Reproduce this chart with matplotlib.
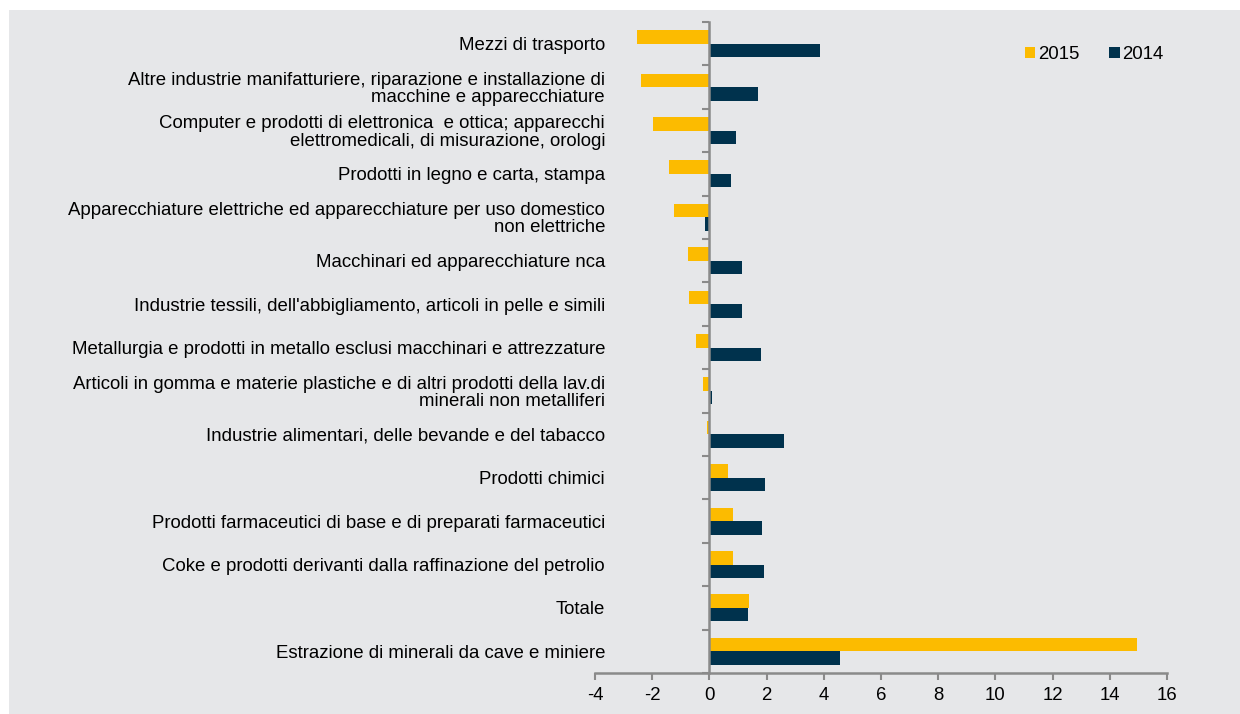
import matplotlib
matplotlib.use("Agg")
import matplotlib.pyplot as plt
import matplotlib.transforms as mtransforms
import numpy as np

plt.rcParams['font.family'] = ['Liberation Sans', 'DejaVu Sans']

categories = [
    "Mezzi di trasporto",
    "Altre industrie manifatturiere, riparazione e installazione di\nmacchine e apparecchiature",
    "Computer e prodotti di elettronica  e ottica; apparecchi\nelettromedicali, di misurazione, orologi",
    "Prodotti in legno e carta, stampa",
    "Apparecchiature elettriche ed apparecchiature per uso domestico\nnon elettriche",
    "Macchinari ed apparecchiature nca",
    "Industrie tessili, dell'abbigliamento, articoli in pelle e simili",
    "Metallurgia e prodotti in metallo esclusi macchinari e attrezzature",
    "Articoli in gomma e materie plastiche e di altri prodotti della lav.di\nminerali non metalliferi",
    "Industrie alimentari, delle bevande e del tabacco",
    "Prodotti chimici",
    "Prodotti farmaceutici di base e di preparati farmaceutici",
    "Coke e prodotti derivanti dalla raffinazione del petrolio",
    "Totale",
    "Estrazione di minerali da cave e miniere",
]
values_2015 = [-2.52, -2.38, -1.96, -1.43, -1.25, -0.76, -0.73, -0.47, -0.22, -0.08,
               0.64, 0.81, 0.81, 1.40, 14.95]
values_2014 = [3.88, 1.71, 0.94, 0.77, -0.16, 1.14, 1.14, 1.82, 0.09, 2.61,
               1.96, 1.83, 1.91, 1.34, 4.56]
series_labels = ["2015", "2014"]
xticks = [-4, -2, 0, 2, 4, 6, 8, 10, 12, 14, 16]

c2015 = "#FCBB00"
c2014 = "#00324D"
bg = "#E6E7E9"
spine_c = "#8A8A8A"
fs = 13.4

fig = plt.figure(figsize=(12.4, 7.14), dpi=100)
fig.patch.set_facecolor("white")

bgax = fig.add_axes([9 / 1240, 0, 1 - 9 / 1240, 1 - 10 / 714], zorder=-5)
bgax.set_facecolor(bg)
bgax.set_xticks([])
bgax.set_yticks([])
for s in bgax.spines.values():
    s.set_visible(False)

ax = fig.add_axes([595 / 1240, 1 - 673 / 714, (1167 - 595) / 1240, (673 - 22) / 714], zorder=1)
ax.set_facecolor("none")

y = np.arange(len(categories))
h = 0.31
ax.barh(y - h / 2, values_2015, height=h, color=c2015, label=series_labels[0], zorder=2)
ax.barh(y + h / 2, values_2014, height=h, color=c2014, label=series_labels[1], zorder=2)

ax.set_xlim(xticks[0], xticks[-1])
ax.set_ylim(len(categories) - 0.5, -0.5)
ax.set_xticks(xticks)
ax.set_xticklabels([str(t) for t in xticks], fontsize=fs)
ax.set_yticks(np.arange(len(categories) + 1) - 0.5)
ax.set_yticklabels([])

for s in ["top", "right"]:
    ax.spines[s].set_visible(False)
ax.spines["left"].set_position(("data", 0))
for s in ["left", "bottom"]:
    ax.spines[s].set_color(spine_c)
    ax.spines[s].set_linewidth(1.8)
    ax.spines[s].set_zorder(3)
ax.tick_params(axis="x", direction="out", length=5, width=1.5, color=spine_c, pad=5)
ax.tick_params(axis="y", direction="out", length=5, width=1.5, color=spine_c)

text_trans = mtransforms.offset_copy(ax.transData, fig=fig, x=0, y=-2, units="dots")
for i, lab in enumerate(categories):
    ax.text(-4 + 0.35, i, lab, ha="right", va="center", fontsize=fs,
            linespacing=1.0, color="black", clip_on=False, transform=text_trans)

leg = ax.legend(loc="upper left", bbox_to_anchor=(0.752, 0.963), ncol=2, frameon=False,
                fontsize=fs, handlelength=0.55, handleheight=0.55, handletextpad=0.15,
                columnspacing=1.6, borderpad=0, borderaxespad=0)

fig.savefig("out.png", dpi=100, facecolor=fig.get_facecolor())
